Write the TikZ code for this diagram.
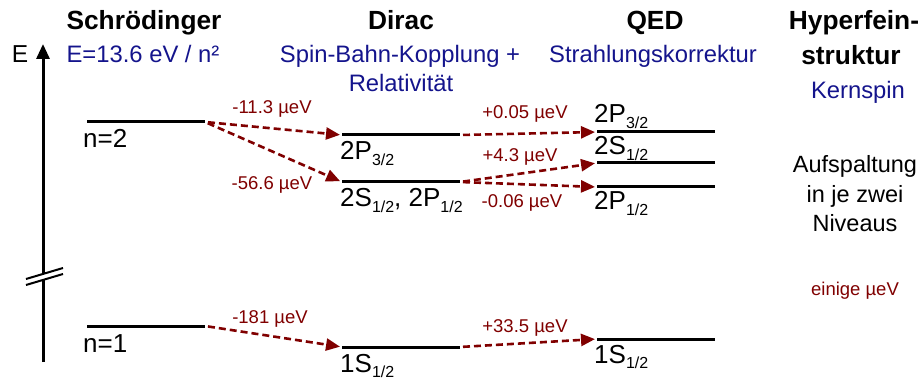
\documentclass[tikz,border=0pt]{standalone}
\usepackage{fontspec}
\setmainfont{Liberation Sans}
\usetikzlibrary{arrows.meta}
\definecolor{hdblue}{RGB}{20,20,140}
\definecolor{arrred}{RGB}{128,0,0}
\newcommand\lsub[1]{\raisebox{-0.2em}{\fontsize{16}{16}\selectfont #1}}
\begin{document}
\begin{tikzpicture}[x=1pt,y=-1pt,
 level/.style={line width=3pt},
 shiftarr/.style={draw=arrred, line width=2.6pt, dash pattern=on 7pt off 4pt,
   -{Triangle[length=14pt,width=12pt]}, shorten <=3pt, shorten >=2pt},
 title/.style={font=\fontsize{26.3}{28}\selectfont\bfseries, anchor=base, inner sep=0pt},
 subt/.style={text=hdblue, font=\fontsize{23.8}{26}\selectfont, anchor=base, inner sep=0pt},
 lab/.style={font=\fontsize{26}{28}\selectfont, anchor=base west, inner sep=0pt},
 val/.style={text=arrred, font=\fontsize{18.5}{20}\selectfont, anchor=base, inner sep=0pt},
 note/.style={font=\fontsize{23.5}{26}\selectfont, anchor=base, inner sep=0pt}]
\useasboundingbox (0,0) rectangle (923,379);

% axis
\coordinate (axb) at (43,362);
\coordinate (axt) at (43,44);
\draw[line width=3pt, -{Triangle[length=15pt,width=13pt]}] (axb) -- (axt);
\node[anchor=base, inner sep=0pt, font=\fontsize{24.5}{27}\selectfont] (E) at (20,63) {E};
% break
\coordinate (b1a) at (26,279); \coordinate (b1b) at (63,268);
\coordinate (b2a) at (26,285); \coordinate (b2b) at (63,274);
\fill[white] (b1a) -- (b1b) -- (b2b) -- (b2a) -- cycle;
\draw[line width=2pt] (b1a) -- (b1b) (b2a) -- (b2b);

% headers
\node[title] (h1) at (144,30) {Schrödinger};
\node[title] (h2) at (401,30) {Dirac};
\node[title] (h3) at (655,30) {QED};
\node[title] (h4) at (854,30) {Hyperfein-};
\node[title] (h4b) at (851,65) {struktur};
\node[subt] (s1) at (143,63) {E=13.6 eV / n²};
\node[subt] (s2) at (400,63) {Spin-Bahn-Kopplung +};
\node[subt] (s2b) at (401,92) {Relativität};
\node[subt] (s3) at (653,63) {Strahlungskorrektur};
\node[subt] (s4) at (858,99) {Kernspin};

% Schroedinger levels
\coordinate (n2L) at (87,122); \coordinate (n2R) at (205,122);
\coordinate (n1L) at (87,326); \coordinate (n1R) at (205,326);
\draw[level] (n2L) -- (n2R);
\draw[level] (n1L) -- (n1R);
\node[lab] (ln2) at (83,148) {n=2};
\node[lab] (ln1) at (83,352) {n=1};

% Dirac levels
\coordinate (dPL) at (342,135); \coordinate (dPR) at (460,135);
\coordinate (dSL) at (342,182); \coordinate (dSR) at (460,182);
\coordinate (d1L) at (342,347); \coordinate (d1R) at (460,347);
\draw[level] (dPL) -- (dPR);
\draw[level] (dSL) -- (dSR);
\draw[level] (d1L) -- (d1R);
\node[lab] (ldP) at (340,160) {2P\lsub{3/2}};
\node[lab] (ldS) at (340,207) {2S\lsub{1/2}, 2P\lsub{1/2}};
\node[lab] (ld1) at (340,372) {1S\lsub{1/2}};

% QED levels
\coordinate (qPL) at (597,132); \coordinate (qPR) at (715,132);
\coordinate (qSL) at (597,163); \coordinate (qSR) at (715,163);
\coordinate (qpL) at (597,187); \coordinate (qpR) at (715,187);
\coordinate (q1L) at (597,339); \coordinate (q1R) at (715,339);
\draw[level] (qPL) -- (qPR);
\draw[level] (qSL) -- (qSR);
\draw[level] (qpL) -- (qpR);
\draw[level] (q1L) -- (q1R);
\node[lab] (lqP) at (594,123) {2P\lsub{3/2}};
\node[lab] (lqS) at (594,155) {2S\lsub{1/2}};
\node[lab] (lqp) at (594,210) {2P\lsub{1/2}};
\node[lab] (lq1) at (594,363) {1S\lsub{1/2}};

% shifts
\draw[shiftarr] (n2R) -- (dPL);
\draw[shiftarr] (n2R) -- (dSL);
\draw[shiftarr] (n1R) -- (d1L);
\draw[shiftarr] (dPR) -- (qPL);
\draw[shiftarr] (dSR) -- (qSL);
\draw[shiftarr] (dSR) -- (qpL);
\draw[shiftarr] (d1R) -- (q1L);

\node[val] (v1) at (272,114) {-11.3 µeV};
\node[val] (v2) at (272,190) {-56.6 µeV};
\node[val] (v3) at (270,323) {-181 µeV};
\node[val] (v4) at (525,119) {+0.05 µeV};
\node[val] (v5) at (520,162) {+4.3 µeV};
\node[val] (v6) at (522,208) {-0.06 µeV};
\node[val] (v7) at (525,332) {+33.5 µeV};

% hyperfine notes
\node[note] (a1) at (855,173) {Aufspaltung};
\node[note] (a2) at (855,203) {in je zwei};
\node[note] (a3) at (855,232) {Niveaus};
\node[val] (a4) at (855,295) {einige µeV};
\end{tikzpicture}
\end{document}
